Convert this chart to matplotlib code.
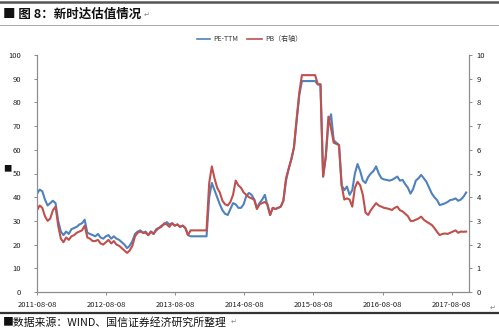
import matplotlib
matplotlib.use("Agg")
import matplotlib.pyplot as plt
import matplotlib.dates as mdates
import pandas as pd

plt.rcParams['font.family'] = ['Noto Sans CJK SC', 'DejaVu Sans']

# biweekly samples
dates = pd.date_range('2011-08-08', periods=163, freq='14D')

pe_ttm = [
    41.5, 43.2, 42.5, 39.0, 36.5, 37.5, 38.5, 37.5, 30.0, 25.5,
    24.0, 25.5, 24.5, 26.5, 27.0, 27.5, 28.5, 29.0, 30.5, 25.0,
    24.5, 24.0, 23.5, 24.5, 23.0, 22.5, 23.5, 24.0, 22.5, 23.5,
    22.5, 22.0, 21.0, 20.0, 18.5, 19.5, 21.5, 24.5, 25.5, 26.0,
    25.0, 25.5, 24.0, 25.5, 24.5, 26.5, 27.0, 28.0, 28.5, 29.5,
    28.5, 29.0, 28.0, 28.5, 27.5, 28.0, 27.0, 24.0, 23.5, 23.5,
    23.5, 23.5, 23.5, 23.5, 23.5, 40.0, 46.0, 43.0, 40.0, 37.0,
    34.5, 33.0, 32.5, 35.0, 37.5, 37.0, 35.5, 35.5, 37.0, 40.5,
    41.8, 41.0, 39.0, 35.5, 37.5, 39.0, 41.0, 36.5, 32.5, 35.5,
    35.0, 35.5, 36.0, 38.5, 47.0, 52.0, 56.0, 61.0, 72.0, 83.0,
    89.0, 89.0, 89.0, 89.0, 89.0, 89.0, 87.6, 87.6, 48.7, 57.0,
    71.0, 75.0, 64.0, 63.0, 62.0, 45.0, 43.0, 44.5, 41.0, 43.0,
    50.0, 54.0, 51.0, 47.0, 46.0, 48.5, 50.0, 51.0, 53.0, 50.0,
    48.0, 47.5, 47.3, 47.0, 47.3, 48.0, 48.7, 47.0, 47.3, 45.5,
    44.0, 41.5, 43.5, 47.0, 48.0, 49.4, 48.0, 46.5, 44.0, 41.6,
    40.0, 38.8, 36.7, 37.0, 37.4, 38.0, 38.8, 39.0, 39.5, 38.5,
    39.0, 40.2, 42.0,
]

pb = [
    3.45, 3.65, 3.55, 3.2, 3.0, 3.1, 3.45, 3.6, 2.8, 2.25,
    2.1, 2.3, 2.2, 2.35, 2.4, 2.5, 2.55, 2.6, 2.8, 2.3,
    2.25, 2.15, 2.15, 2.2, 2.05, 2.0, 2.1, 2.2, 2.05, 2.15,
    2.0, 1.95, 1.85, 1.75, 1.65, 1.75, 1.95, 2.35, 2.5, 2.55,
    2.5, 2.5, 2.4, 2.55, 2.45, 2.6, 2.7, 2.75, 2.9, 2.85,
    2.75, 2.9, 2.8, 2.85, 2.75, 2.8, 2.7, 2.4, 2.6, 2.6,
    2.6, 2.6, 2.6, 2.6, 2.6, 4.6, 5.3, 4.8, 4.4, 4.2,
    3.85, 3.7, 3.65, 3.8, 4.1, 4.7, 4.5, 4.4, 4.2, 4.1,
    4.0, 3.95, 3.9, 3.5, 3.7, 3.75, 3.8, 3.7, 3.25, 3.55,
    3.5, 3.55, 3.6, 3.85, 4.8, 5.2, 5.6, 6.1, 7.3, 8.4,
    9.15, 9.15, 9.15, 9.15, 9.15, 9.15, 8.76, 8.76, 4.87, 5.7,
    7.4, 6.9, 6.3, 6.25, 6.2, 4.5, 3.9, 3.95, 3.9, 3.6,
    4.4, 4.65, 4.5, 4.1, 3.35, 3.25, 3.45, 3.6, 3.75, 3.65,
    3.6, 3.55, 3.53, 3.5, 3.46, 3.55, 3.6, 3.45, 3.4, 3.3,
    3.2, 3.0, 3.0, 3.05, 3.1, 3.18, 3.05, 2.97, 2.9, 2.83,
    2.7, 2.54, 2.4, 2.45, 2.47, 2.45, 2.5, 2.55, 2.6, 2.5,
    2.55, 2.54, 2.55,
]

tick_dates = ['2011-08-08', '2012-08-08', '2013-08-08', '2014-08-08',
              '2015-08-08', '2016-08-08', '2017-08-08']

title = '■ 图 8：新时达估值情况'
source = '■数据来源：WIND、国信证券经济研究所整理'

blue = '#4F81BD'
red = '#C0504D'
grey = '#8C8C8C'

fig = plt.figure(figsize=(4.99, 3.31), dpi=100)
ax = fig.add_axes([37 / 499, 1 - 292 / 331, 432 / 499, 237 / 331])
ax2 = ax.twinx()

ax.plot(dates, pe_ttm, color=blue, lw=1.5)
ax2.plot(dates, pb, color=red, lw=1.5)

ax.set_ylim(0, 100)
ax.set_yticks(range(0, 101, 10))
ax2.set_ylim(0, 10)
ax2.set_yticks(range(0, 11, 1))
ax.set_xlim(pd.Timestamp('2011-08-08'), pd.Timestamp('2017-11-07'))
ax.set_xticks([pd.Timestamp(d) for d in tick_dates])
ax.xaxis.set_major_formatter(mdates.DateFormatter('%Y-%m-%d'))

for a in (ax, ax2):
    a.spines['top'].set_visible(False)
    for s in ('left', 'right', 'bottom'):
        a.spines[s].set_color(grey)
        a.spines[s].set_linewidth(0.8)
    a.tick_params(colors=grey, labelcolor='#222222', labelsize=5.5,
                  length=2.5, width=0.7)
ax.tick_params(axis='y', pad=9)
ax2.tick_params(axis='y', pad=3)
ax.tick_params(axis='x', pad=4)

# legend drawn by hand at the top
fig.add_artist(plt.Line2D([197 / 499, 210 / 499], [1 - 39 / 331] * 2,
                          color=blue, lw=1.2))
fig.text(213 / 499, 1 - 39 / 331, 'PE-TTM', fontsize=5, va='center',
         color='#333333')
fig.add_artist(plt.Line2D([247 / 499, 262 / 499], [1 - 39 / 331] * 2,
                          color=red, lw=1.2))
fig.text(265 / 499, 1 - 39 / 331, 'PB（右轴）', fontsize=5, va='center',
         color='#333333')

# header / footer rules and text
fig.add_artist(plt.Line2D([0, 1], [1 - 2 / 331] * 2, color='#555555', lw=1.8))
fig.add_artist(plt.Line2D([0, 1], [1 - 25 / 331] * 2, color='#999999', lw=0.6))
fig.add_artist(plt.Line2D([0, 1], [1 - 313 / 331] * 2, color='#333333', lw=1.6))
fig.text(3 / 499, 1 - 14 / 331, title, fontsize=9, fontweight='bold',
         va='center', color='#111111')
fig.text(144 / 499, 1 - 15 / 331, '↵', fontsize=5, va='center', color='#888888',
         family=['DejaVu Sans'])
fig.text(3 / 499, 1 - 322 / 331, source, fontsize=7.8, va='center',
         color='#111111')
fig.text(231 / 499, 1 - 322 / 331, '↵', fontsize=5, va='center', color='#888888',
         family=['DejaVu Sans'])
fig.text(490 / 499, 1 - 308 / 331, '↵', fontsize=5, va='center', color='#888888',
         family=['DejaVu Sans'])
fig.text(3 / 499, 1 - 169 / 331, '■', fontsize=6, va='center', color='#111111')

fig.savefig('out.png', dpi=100)
